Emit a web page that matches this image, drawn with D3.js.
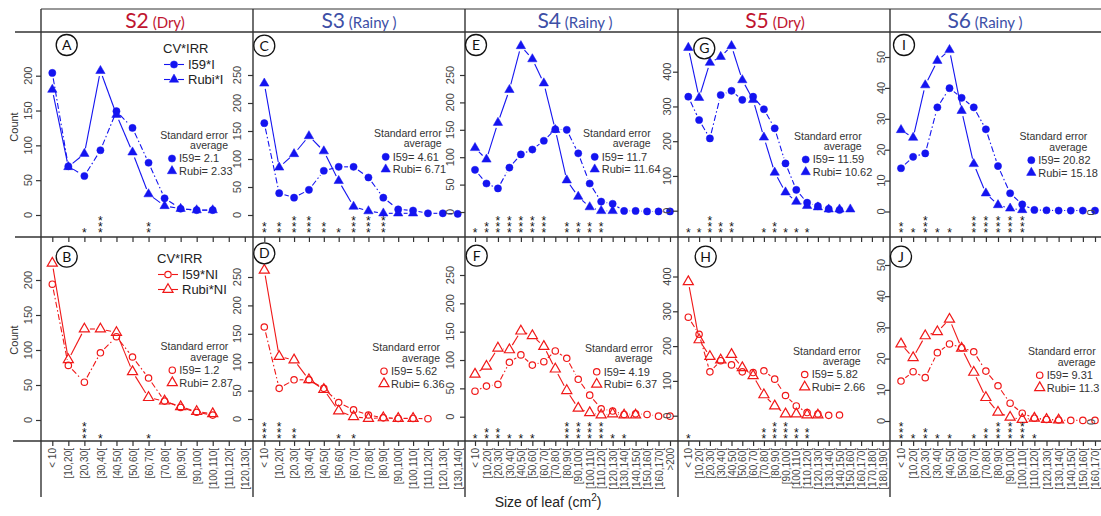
<!DOCTYPE html>
<html>
<head>
<meta charset="utf-8">
<script src="https://cdn.jsdelivr.net/npm/d3@7"></script>
<style>
  body { margin: 0; background: #fff; }
  svg { display: block; }
  text { font-family: "Liberation Sans", Arial, sans-serif; }
</style>
</head>
<body>
<div id="chart"></div>
<script>
// Leaf size classes (cm2)
const sizeBins = ["< 10", "[10,20[", "[20,30[", "[30,40[", "[40,50[", "[50,60[", "[60,70[",
  "[70,80[", "[80,90[", "[90,100[", "[100,110[", "[110,120[", "[120,130[", "[130,140[",
  "[140,150[", "[150,160[", "[160,170[", "[170,180[", "[180,190["];

const sites = ["S2", "S3", "S4", "S5", "S6"];
const seasons = ["(Dry)", "(Rainy )", "(Rainy )", "(Dry)", "(Rainy )"];
const siteCats = [
  sizeBins.slice(0, 13),
  sizeBins.slice(0, 14),
  sizeBins.slice(0, 17).concat([">200"]),
  sizeBins.slice(0, 19),
  sizeBins.slice(0, 17)
];

const lettersTop = ["A", "C", "E", "G", "I"];
const lettersBottom = ["B", "D", "F", "H", "J"];

const ticksTop = [[0, 50, 100, 150, 200], [0, 50, 100, 150, 200, 250], [0, 50, 100, 150, 200, 250],
  [0, 100, 200, 300, 400], [0, 10, 20, 30, 40, 50]];
const ticksBottom = [[0, 50, 100, 150, 200], [0, 50, 100, 150, 200, 250], [0, 50, 100, 150, 200, 250],
  [0, 100, 200, 300, 400], [0, 10, 20, 30, 40, 50]];

// Counts, irrigated (top row)
const i59Irrigated = [
  [204, 70, 56, 93, 149, 125, 75, 24, 9, 7, 7],
  [164, 39, 31, 45, 79, 86, 86, 67, 31, 10, 8, 3, 3, 2],
  [77, 52, 43, 81, 105, 114, 130, 151, 150, 107, 52, 19, 15, 2, 2, 1, 1, 1],
  [328, 261, 208, 333, 345, 319, 328, 292, 237, 136, 60, 23, 13, 5, 2],
  [14, 17.7, 18.8, 33.7, 39.9, 36.8, 33.7, 26.6, 14.7, 5.9, 2.3, 0.5, 0.4, 0.3, 0.3, 0.3, 0.3]
];
const rubiIrrigated = [
  [180, 69, 88, 207, 144, 90, 30, 13, 9, 7, 7],
  [235, 85, 109, 141, 114, 61, 15, 7, 3, 3, 3],
  [117, 96, 163, 223, 303, 279, 235, 150, 58, 28, 9, 2, 2],
  [469, 325, 426, 443, 474, 376, 319, 211, 110, 53, 26, 14, 10, 4, 4, 4],
  [26.4, 23.9, 40.9, 48.8, 52.3, 32.6, 15.4, 5.9, 2.1, 1.0, 0.5]
];

// Counts, non irrigated (bottom row)
const i59NonIrrigated = [
  [194, 78, 54, 96, 119, 90, 60, 27, 18, 11, 7],
  [162, 54, 69, 69, 54, 29, 16, 7, 2, 1, 1, 0.5],
  [45, 54, 57, 96, 109, 91, 97, 116, 103, 66, 38, 14, 10, 4, 5, 4, 1, 1],
  [283, 234, 126, 158, 146, 126, 124, 129, 105, 58, 28, 9, 5, 1, 2],
  [12.8, 15.8, 13.9, 21.9, 24.7, 23.5, 22.2, 16, 11.3, 5.7, 2.5, 0.9, 0.5, 0.3, 0.2, 0.2, 0.2]
];
const rubiNonIrrigated = [
  [224, 86, 130, 130, 125, 69, 32, 27, 19, 12, 9],
  [262, 110, 104, 69, 52, 14, 4, 1, 2, 1, 1],
  [75, 89, 121, 118, 151, 143, 124, 84, 46, 15, 7, 3, 5, 3, 3],
  [385, 218, 170, 160, 176, 138, 115, 60, 28, 5, 5, 2, 2],
  [24.7, 20.3, 27.3, 28.6, 32.6, 23.3, 15.6, 7.5, 2.8, 1.2, 0.5, 0.9, 0.5, 0.3]
];

// Number of significance stars per size class
const starsTop = [
  [0, 0, 1, 3, 0, 0, 2],
  [2, 2, 3, 3, 2, 1, 3, 3, 3],
  [1, 2, 3, 3, 3, 3, 3, 0, 2, 2, 2, 2],
  [1, 1, 3, 2, 2, 0, 0, 1, 2, 1, 1, 1],
  [2, 1, 3, 1, 1, 0, 3, 3, 3, 3, 3]
];
const starsBottom = [
  [0, 0, 3, 1, 0, 0, 1],
  [3, 3, 2, 0, 0, 1, 1],
  [1, 2, 2, 1, 1, 1, 0, 0, 3, 3, 3, 3, 1, 1],
  [1, 0, 0, 0, 0, 0, 0, 2, 3, 3, 2, 2],
  [3, 1, 2, 1, 1, 0, 1, 2, 3, 3, 3, 1]
];

// Standard error averages
const seI59Top = ["2.1", "4.61", "11.7", "11.59", "20.82"];
const seRubiTop = ["2.33", "6.71", "11.64", "10.62", "15.18"];
const seI59Bottom = ["1.2", "5.62", "4.19", "5.82", "9.31"];
const seRubiBottom = ["2.87", "6.36", "6.37", "2.66", "11.3"];

// ---------- layout ----------
const W = 1101, H = 516;
const ink = "#333";
const blue = "#1414f0", red = "#f01818";
const colEdges = [41, 253, 465, 678, 890, 1101];
const firstTick = [52.3, 264.3, 475, 688.3, 901];
const lastTick = [244.8, 457.7, 670, 882.7, 1095];
const yLabelOffset = [13, 16, 15, 11, 9];

const rows = [
  {
    axisY: 237, zero: [215, 215, 212, 210.7, 211.5],
    refY: [75.7, 75, 75, 71.7, 57], starBase: 230,
    ticks: ticksTop, letters: lettersTop, stars: starsTop,
    i59: i59Irrigated, rubi: rubiIrrigated, seI59: seI59Top, seRubi: seRubiTop,
    color: blue, hollow: false, countY: 127,
    letterPos: [[66.7, 45], [264.3, 45.7], [476, 45], [704.3, 48.3], [904, 45]],
    sePos: [[228, 135], [441.7, 133.3], [650.7, 133.3], [861.7, 136], [1087.3, 136.7]],
    legend: { x: 163, y: 48.5, names: ["I59*I", "Rubi*I"] }
  },
  {
    axisY: 441, zero: [420, 419, 416.7, 415.7, 421],
    refY: [280, 277, 275, 276.5, 265], starBase: 436,
    ticks: ticksBottom, letters: lettersBottom, stars: starsBottom,
    i59: i59NonIrrigated, rubi: rubiNonIrrigated, seI59: seI59Bottom, seRubi: seRubiBottom,
    color: red, hollow: true, countY: 340,
    letterPos: [[66.7, 256.7], [264.3, 253.3], [476.7, 255.7], [705.7, 256.7], [901, 256.7]],
    sePos: [[228.3, 346.7], [440, 347.7], [652.7, 348.3], [860.7, 351], [1095.7, 351.7]],
    legend: { x: 157, y: 258.5, names: ["I59*NI", "Rubi*NI"] }
  }
];

const svg = d3.select("#chart").append("svg")
  .attr("width", W)
  .attr("height", H);

// Frame lines
svg.append("line").attr("x1", colEdges[0]).attr("x2", W).attr("y1", 9).attr("y2", 9)
  .attr("stroke", ink).attr("stroke-width", 1.2);
[[32, 15], [237, 15], [441, 13]].forEach(([yy, x0]) => {
  svg.append("line").attr("x1", x0).attr("x2", W).attr("y1", yy).attr("y2", yy)
    .attr("stroke", ink).attr("stroke-width", 1.6);
});
colEdges.slice(0, 5).forEach(xx => {
  svg.append("line").attr("x1", xx).attr("x2", xx).attr("y1", 9).attr("y2", 497)
    .attr("stroke", ink).attr("stroke-width", 1.4);
});

// Headers
const headerCenter = [155, 359, 575, 775, 985];
sites.forEach((s, c) => {
  const dry = seasons[c].startsWith("(Dry");
  const t = svg.append("text")
    .attr("x", headerCenter[c])
    .attr("y", 28)
    .attr("text-anchor", "middle")
    .style("font-family", "Lato, 'Open Sans', sans-serif")
    .attr("fill", dry ? "#bf1530" : "#3d4fa6");
  t.append("tspan").style("font-size", "21px").text(s);
  t.append("tspan").style("font-size", "15px").text("  " + seasons[c]);
});

const gap = 5.5;
function drawSeries(g, pts, color, dash) {
  for (let i = 0; i < pts.length - 1; i++) {
    const [x0, y0] = pts[i], [x1, y1] = pts[i + 1];
    const d = Math.hypot(x1 - x0, y1 - y0);
    if (d <= 2 * gap) continue;
    const ux = (x1 - x0) / d, uy = (y1 - y0) / d;
    g.append("line")
      .attr("x1", x0 + ux * gap).attr("y1", y0 + uy * gap)
      .attr("x2", x1 - ux * gap).attr("y2", y1 - uy * gap)
      .attr("stroke", color).attr("stroke-width", 1.1)
      .attr("stroke-dasharray", dash);
  }
}

function marker(g, kind, x, y, color, hollow) {
  if (kind === "circle") {
    g.append("circle").attr("cx", x).attr("cy", y).attr("r", hollow ? 3.2 : 3.6)
      .attr("fill", hollow ? "none" : color)
      .attr("stroke", color).attr("stroke-width", hollow ? 1.2 : 0.5);
  } else {
    g.append("path")
      .attr("d", d3.symbol(d3.symbolTriangle, hollow ? 44 : 38)())
      .attr("transform", `translate(${x},${y})`)
      .attr("fill", hollow ? "none" : color)
      .attr("stroke", color).attr("stroke-width", hollow ? 1.2 : 0.5);
  }
}

rows.forEach((row, r) => {
  sites.forEach((s, c) => {
    const cats = siteCats[c];
    const x = d3.scalePoint().domain(cats).range([firstTick[c], lastTick[c]]);
    const topVal = row.ticks[c][row.ticks[c].length - 1];
    const y = d3.scaleLinear().domain([0, topVal]).range([row.zero[c], row.refY[c]]);
    const g = svg.append("g");

    // y axis ticks + rotated labels
    const ya = g.append("g")
      .attr("transform", `translate(${colEdges[c]},0)`)
      .call(d3.axisLeft(y).tickValues(row.ticks[c]).tickSize(5).tickFormat(""));
    ya.select(".domain").remove();
    ya.selectAll("line").attr("stroke", ink).attr("stroke-width", 1.2);
    g.selectAll(null)
      .data(row.ticks[c])
      .enter()
      .append("text")
      .attr("transform", d => `translate(${colEdges[c] - yLabelOffset[c]},${y(d)}) rotate(-90)`)
      .attr("text-anchor", "middle")
      .attr("dy", "0.36em")
      .style("font-size", "11px")
      .attr("fill", "#444")
      .text(d => d);

    // x axis
    const xa = g.append("g")
      .attr("transform", `translate(0,${row.axisY})`)
      .call(d3.axisBottom(x).tickSize(5));
    xa.select(".domain").remove();
    xa.selectAll("line").attr("stroke", ink).attr("stroke-width", 1.2);
    if (r === 0) {
      xa.selectAll("text").remove();
    } else {
      xa.selectAll("text")
        .attr("transform", "rotate(-90)")
        .attr("x", -7)
        .attr("y", 0)
        .attr("dy", "0.36em")
        .style("text-anchor", "end")
        .style("font-size", "10px")
        .style("font-family", "'Liberation Sans', Arial, sans-serif")
        .attr("fill", "#444");
    }

    // series
    const p59 = row.i59[c].map((v, i) => [x(cats[i]), y(v)]);
    const pRubi = row.rubi[c].map((v, i) => [x(cats[i]), y(v)]);
    drawSeries(g, p59, row.color, "6,2.5,1.5,2.5");
    drawSeries(g, pRubi, row.color, null);
    p59.forEach(p => marker(g, "circle", p[0], p[1], row.color, row.hollow));
    pRubi.forEach(p => marker(g, "triangle", p[0], p[1], row.color, row.hollow));

    // significance stars
    row.stars[c].forEach((n, i) => {
      for (let k = 0; k < n; k++) {
        g.append("text")
          .attr("x", x(cats[i]))
          .attr("y", row.starBase - k * 6 + 7)
          .attr("text-anchor", "middle")
          .style("font-size", "12px")
          .attr("fill", "#111")
          .text("*");
      }
    });

    // circled panel letter
    const [lx, ly] = row.letterPos[c];
    g.append("circle").attr("cx", lx).attr("cy", ly).attr("r", 10.5)
      .attr("fill", "none").attr("stroke", "#111").attr("stroke-width", 1.3);
    g.append("text").attr("x", lx).attr("y", ly).attr("dy", "0.36em")
      .attr("text-anchor", "middle")
      .style("font-family", "Lato, 'Open Sans', sans-serif")
      .style("font-size", "14px").attr("fill", "#111")
      .text(row.letters[c]);

    // standard error legend
    const [sx, sy] = row.sePos[c];
    g.append("text").attr("x", sx).attr("y", sy).attr("dy", "0.35em")
      .attr("text-anchor", "end").style("font-size", "10.5px").attr("fill", "#333")
      .text("Standard error");
    g.append("text").attr("x", sx).attr("y", sy + 10.5).attr("dy", "0.35em")
      .attr("text-anchor", "end").style("font-size", "10.5px").attr("fill", "#333")
      .text("average");
    const mx = sx - 56;
    marker(g, "circle", mx, sy + 23.5, row.color, row.hollow);
    marker(g, "triangle", mx, sy + 36, row.color, row.hollow);
    g.append("text").attr("x", mx + 7).attr("y", sy + 23.5).attr("dy", "0.35em")
      .style("font-size", "11px").attr("fill", "#333")
      .text(`I59= ${row.seI59[c]}`);
    g.append("text").attr("x", mx + 7).attr("y", sy + 36).attr("dy", "0.35em")
      .style("font-size", "11px").attr("fill", "#333")
      .text(`Rubi= ${row.seRubi[c]}`);
  });

  // CV*IRR legend (first column only)
  const lg = svg.append("g");
  const L = row.legend;
  lg.append("text").attr("x", L.x).attr("y", L.y).attr("dy", "0.36em")
    .style("font-size", "13px").attr("fill", "#222").text("CV*IRR");
  ["circle", "triangle"].forEach((kind, k) => {
    const yy = L.y + 16 + k * 15;
    const cx = L.x + 11;
    lg.append("line").attr("x1", cx - 10).attr("x2", cx - 4).attr("y1", yy).attr("y2", yy)
      .attr("stroke", row.color).attr("stroke-width", 1.1);
    lg.append("line").attr("x1", cx + 4).attr("x2", cx + 10).attr("y1", yy).attr("y2", yy)
      .attr("stroke", row.color).attr("stroke-width", 1.1);
    marker(lg, kind, cx, yy, row.color, row.hollow);
    lg.append("text").attr("x", cx + 14).attr("y", yy).attr("dy", "0.36em")
      .style("font-size", "13px").attr("fill", "#222").text(L.names[k]);
  });

  // Count label
  svg.append("text")
    .attr("transform", `translate(14,${row.countY}) rotate(-90)`)
    .attr("text-anchor", "middle")
    .attr("dy", "0.36em")
    .style("font-size", "11px")
    .attr("fill", "#333")
    .text("Count");

  // zero label of the panel cut at the right edge
  svg.append("text")
    .attr("transform", `translate(1091,${row.zero[4] + 1}) rotate(-90)`)
    .attr("text-anchor", "middle")
    .attr("dy", "0.36em")
    .style("font-size", "11px")
    .attr("fill", "#444")
    .text("0");
});

// x title
const xt = svg.append("text")
  .attr("x", 548)
  .attr("y", 507)
  .attr("text-anchor", "middle")
  .style("font-size", "14px")
  .attr("fill", "#222");
xt.append("tspan").text("Size of leaf (cm");
xt.append("tspan").attr("dy", -6).style("font-size", "10px").text("2");
xt.append("tspan").attr("dy", 6).text(")");
</script>
</body>
</html>
